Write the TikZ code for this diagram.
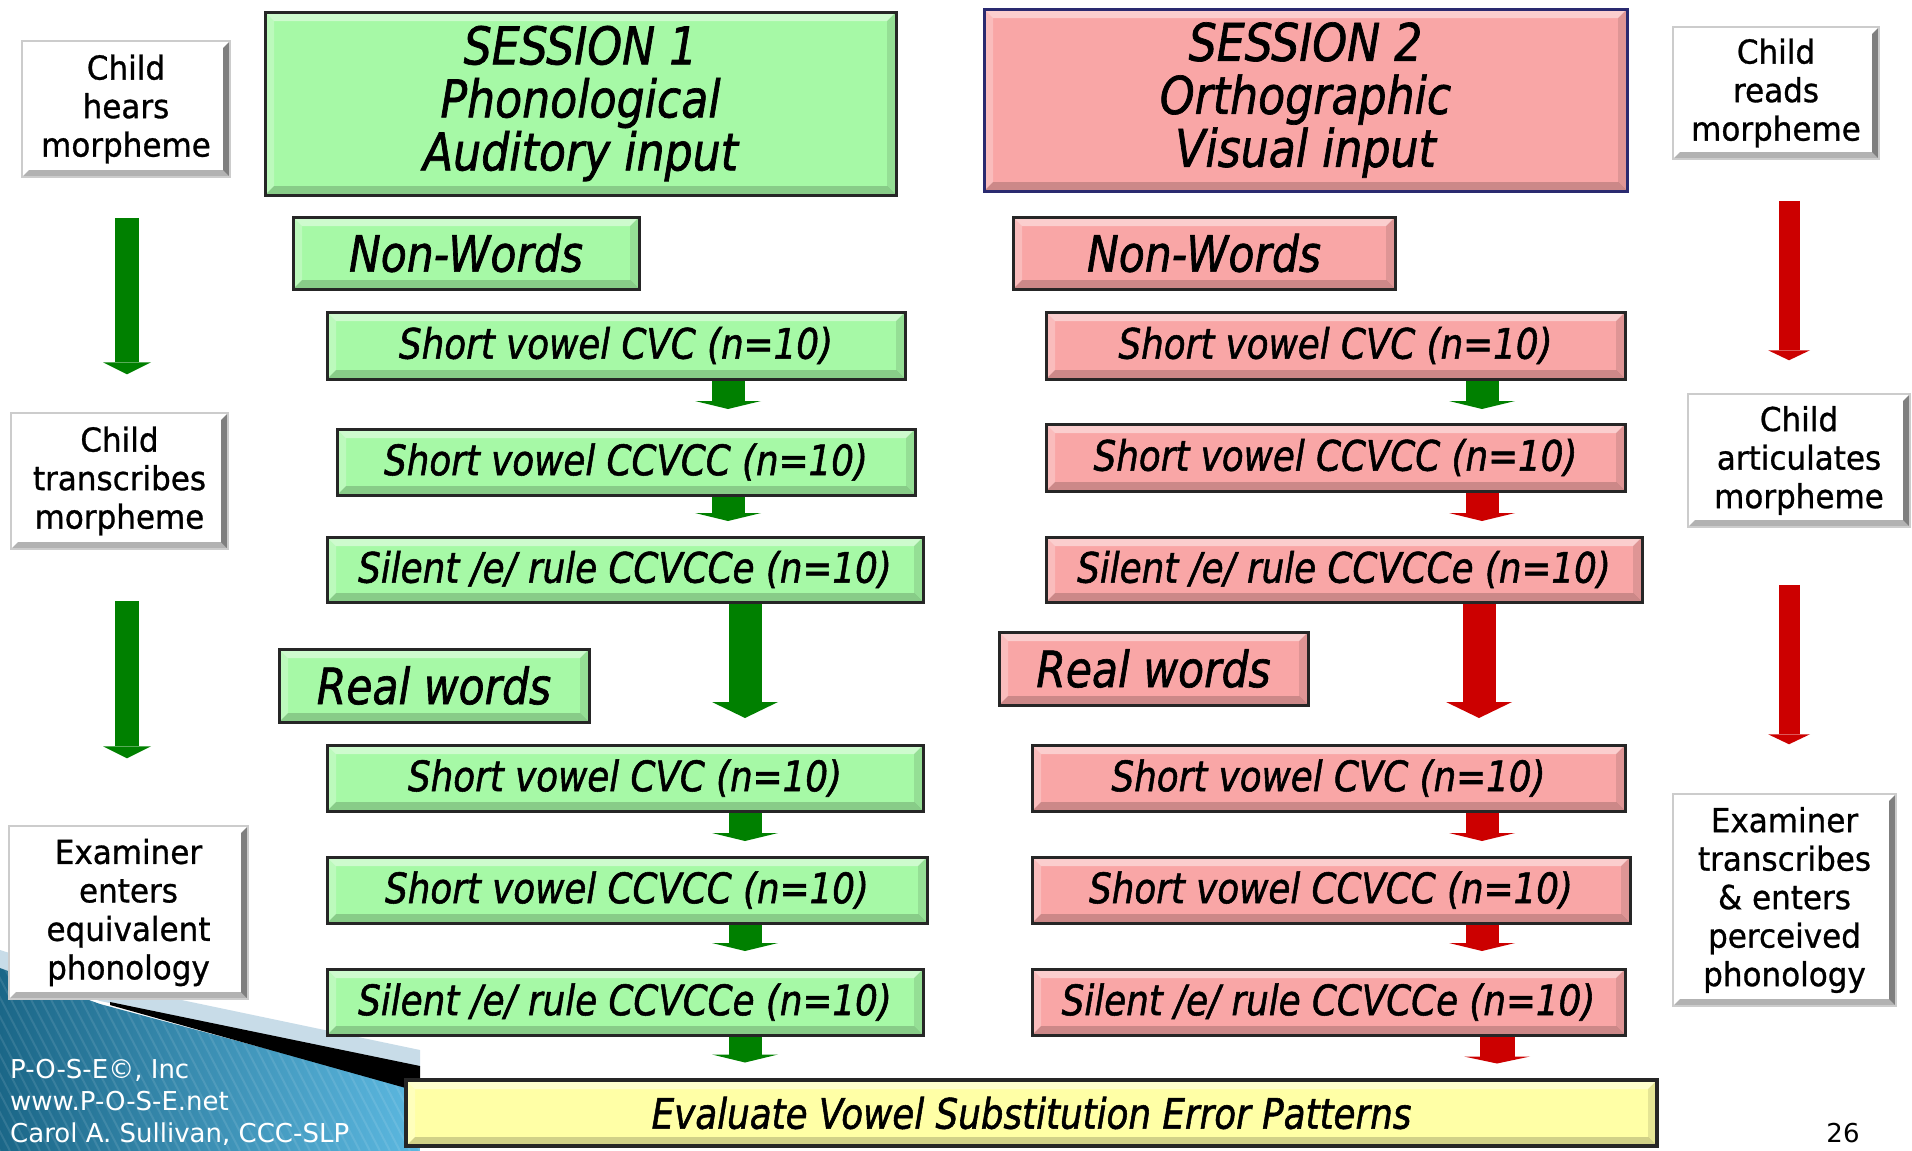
\documentclass[tikz,border=0pt]{standalone}
\usepackage{fontspec}
\setmainfont{DejaVu Sans}
\newfontfamily\boxfont{DejaVu Sans}[FakeStretch=0.85,FakeBold=1.3]
\newfontfamily\wfont{DejaVu Sans}[FakeStretch=0.94,FakeBold=0.9]
\usetikzlibrary{arrows.meta}
\definecolor{gfill}{HTML}{A6F9A6}
\definecolor{rfill}{HTML}{F9A6A6}
\definecolor{yfill}{HTML}{FFFFA6}
\definecolor{agreen}{HTML}{008000}
\definecolor{ared}{HTML}{CC0000}
\definecolor{navy}{HTML}{2A2A70}
\definecolor{blueD}{HTML}{1B6788}
\definecolor{blueL}{HTML}{5CB8E0}
\definecolor{paleband}{HTML}{C8DCE8}
\tikzset{
  bev/.style n args={5}{path picture={
    \fill[white,opacity=#2] (path picture bounding box.north west) -- (path picture bounding box.north east)
      -- ([xshift=-#1,yshift=-#1]path picture bounding box.north east) -- ([xshift=#1,yshift=-#1]path picture bounding box.north west) -- cycle;
    \fill[white,opacity=#3] (path picture bounding box.north west) -- ([xshift=#1,yshift=-#1]path picture bounding box.north west)
      -- ([xshift=#1,yshift=#1]path picture bounding box.south west) -- (path picture bounding box.south west) -- cycle;
    \fill[black,opacity=#4] (path picture bounding box.south west) -- ([xshift=#1,yshift=#1]path picture bounding box.south west)
      -- ([xshift=-#1,yshift=#1]path picture bounding box.south east) -- (path picture bounding box.south east) -- cycle;
    \fill[black,opacity=#5] (path picture bounding box.south east) -- ([xshift=-#1,yshift=#1]path picture bounding box.south east)
      -- ([xshift=-#1,yshift=-#1]path picture bounding box.north east) -- (path picture bounding box.north east) -- cycle;
  }},
  cbox/.style={draw=black!85, line width=3pt, inner sep=0pt, align=center, bev={9pt}{0.45}{0.25}{0.18}{0.10}},
  gbox/.style={cbox, fill=gfill},
  rbox/.style={cbox, fill=rfill},
  ybox/.style={cbox, fill=yfill, line width=4pt},
  wbox/.style={draw=gray!40, line width=1.5pt, fill=white, inner sep=0pt, align=center,
    bev={7pt}{0}{0.05}{0.30}{0.50}, font=\wfont\fontsize{33}{38.5}\selectfont},
  txl/.style={font=\boxfont\itshape\fontsize{52}{53}\selectfont},
  txm/.style={font=\boxfont\itshape\fontsize{50}{50}\selectfont},
  txs/.style={font=\boxfont\itshape\fontsize{42}{42}\selectfont},
  fat/.style n args={4}{draw=#1, line width=#2pt, -{Triangle[length=#4pt,width=#3pt,line width=0pt]}},
  foot/.style={text=white, anchor=base west, inner sep=0pt, font=\fontsize{26}{32}\selectfont}
}
\newcommand\mybox[7]{\node[#2, minimum width={#5-#3}, minimum height={#6-#4}] (#1) at ({(#3+#5)/2},{(#4+#6)/2}) {#7};}
\begin{document}
\begin{tikzpicture}[x=1pt,y=-1pt]
\useasboundingbox (0,0) rectangle (1912,1151);
\fill[white] (0,0) rectangle (1912,1151);
% footer decoration
\fill[paleband] (0,950) -- (110,985) -- (420,1050) -- (420,1067) -- (100,1001) -- (0,968) -- cycle;
\begin{scope}
  \clip (0,968) -- (100,1004) -- (420,1090) -- (420,1151) -- (0,1151) -- cycle;
  \shade[left color=blueD, right color=blueL] (0,940) rectangle (420,1151);
  \foreach \i in {-300,-290,...,420} \draw[white,opacity=.10,line width=2pt] (\i,940) -- (\i+110,1151);
\end{scope}
\fill[black] (110,1002) -- (420,1066) -- (420,1092) -- (110,1005) -- cycle;
\node[foot] (f1) at (10,1078) {P-O-S-E©, Inc};
\node[foot] (f2) at (10,1110) {www.P-O-S-E.net};
\node[foot] (f3) at (10,1142) {Carol A. Sullivan, CCC-SLP};
\node[anchor=south, inner sep=0pt, font=\fontsize{26}{28}\selectfont] (pg) at (1843,1143) {26};
% coordinates for arrow columns
\coordinate (lx) at (127,0);
\coordinate (rx) at (1789,0);
\coordinate (c1a) at (728,0);
\coordinate (c1b) at (745,0);
\coordinate (c2a) at (1482,0);
\coordinate (c2b) at (1479,0);
\coordinate (c2c) at (1497,0);
% white boxes
\mybox{hear}{wbox}{22}{41}{230}{177}{Child\\hears\\morpheme}
\mybox{trans}{wbox}{11}{413}{228}{549}{Child\\transcribes\\morpheme}
\mybox{examA}{wbox}{9}{826}{248}{999}{Examiner\\enters\\equivalent\\phonology}
\mybox{reads}{wbox}{1673}{27}{1879}{159}{Child\\reads\\morpheme}
\mybox{artic}{wbox}{1688}{394}{1910}{527}{Child\\articulates\\morpheme}
\mybox{examB}{wbox}{1673}{794}{1896}{1006}{Examiner\\transcribes\\\& enters\\perceived\\phonology}
% session 1
\mybox{sesA}{gbox,txl}{265}{12}{896}{195}{SESSION 1\\Phonological\\Auditory input}
\mybox{nwA}{gbox,txm}{293}{217}{639}{289}{Non-Words}
\mybox{cvcA}{gbox,txs}{327}{312}{905}{379}{Short vowel CVC (n=10)}
\mybox{ccvccA}{gbox,txs}{337}{429}{915}{495}{Short vowel CCVCC (n=10)}
\mybox{silA}{gbox,txs}{327}{537}{923}{602}{Silent /e/ rule CCVCCe (n=10)}
\mybox{rwA}{gbox,txm}{279}{649}{589}{722}{Real words}
\mybox{rcvcA}{gbox,txs}{327}{745}{923}{811}{Short vowel CVC (n=10)}
\mybox{rccvccA}{gbox,txs}{327}{857}{927}{923}{Short vowel CCVCC (n=10)}
\mybox{rsilA}{gbox,txs}{327}{969}{923}{1035}{Silent /e/ rule CCVCCe (n=10)}
% session 2
\mybox{sesB}{rbox,txl,draw=navy}{984}{9}{1627}{191}{SESSION 2\\Orthographic\\Visual input}
\mybox{nwB}{rbox,txm}{1013}{217}{1395}{289}{Non-Words}
\mybox{cvcB}{rbox,txs}{1046}{312}{1625}{379}{Short vowel CVC (n=10)}
\mybox{ccvccB}{rbox,txs}{1046}{424}{1625}{491}{Short vowel CCVCC (n=10)}
\mybox{silB}{rbox,txs}{1046}{537}{1642}{602}{Silent /e/ rule CCVCCe (n=10)}
\mybox{rwB}{rbox,txm}{999}{632}{1308}{705}{Real words}
\mybox{rcvcB}{rbox,txs}{1032}{745}{1625}{811}{Short vowel CVC (n=10)}
\mybox{rccvccB}{rbox,txs}{1032}{857}{1630}{923}{Short vowel CCVCC (n=10)}
\mybox{rsilB}{rbox,txs}{1032}{969}{1625}{1035}{Silent /e/ rule CCVCCe (n=10)}
% evaluate
\mybox{evalbox}{ybox,txs}{406}{1080}{1657}{1146}{Evaluate Vowel Substitution Error Patterns}
% side arrows
\draw[fat={agreen}{24}{48}{12}, shorten <=40pt, shorten >=38pt] (hear.south -| lx) -- (trans.north -| lx);
\draw[fat={agreen}{24}{48}{12}, shorten <=51pt, shorten >=67pt] (trans.south -| lx) -- (examA.north -| lx);
\draw[fat={ared}{21}{42}{10}, shorten <=41pt, shorten >=33pt] (reads.south -| rx) -- (artic.north -| rx);
\draw[fat={ared}{21}{42}{10}, shorten <=57pt, shorten >=49pt] (artic.south -| rx) -- (examB.north -| rx);
% column 1 arrows
\draw[fat={agreen}{33}{66}{8}, shorten >=18.5pt] (cvcA.south -| c1a) -- (ccvccA.north -| c1a);
\draw[fat={agreen}{33}{66}{8}, shorten >=14.5pt] (ccvccA.south -| c1a) -- (silA.north -| c1a);
\draw[fat={agreen}{33}{66}{16}, shorten >=25.5pt] (silA.south -| c1b) -- (rcvcA.north -| c1b);
\draw[fat={agreen}{33}{66}{8}, shorten >=14.5pt] (rcvcA.south -| c1b) -- (rccvccA.north -| c1b);
\draw[fat={agreen}{33}{66}{8}, shorten >=16.5pt] (rccvccA.south -| c1b) -- (rsilA.north -| c1b);
\draw[fat={agreen}{33}{66}{8}, shorten >=15.5pt] (rsilA.south -| c1b) -- (evalbox.north -| c1b);
% column 2 arrows
\draw[fat={agreen}{33}{66}{8}, shorten >=13.5pt] (cvcB.south -| c2a) -- (ccvccB.north -| c2a);
\draw[fat={ared}{33}{66}{8}, shorten >=14.5pt] (ccvccB.south -| c2a) -- (silB.north -| c2a);
\draw[fat={ared}{33}{66}{16}, shorten >=25.5pt] (silB.south -| c2b) -- (rcvcB.north -| c2b);
\draw[fat={ared}{33}{66}{8}, shorten >=14.5pt] (rcvcB.south -| c2a) -- (rccvccB.north -| c2a);
\draw[fat={ared}{33}{66}{8}, shorten >=16.5pt] (rccvccB.south -| c2a) -- (rsilB.north -| c2a);
\draw[fat={ared}{35}{66}{7}, shorten >=14.5pt] (rsilB.south -| c2c) -- (evalbox.north -| c2c);
\end{tikzpicture}
\end{document}
